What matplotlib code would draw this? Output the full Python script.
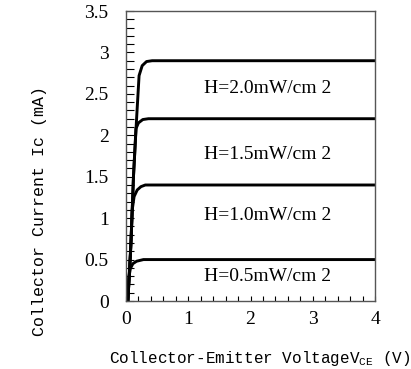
import matplotlib.pyplot as plt
from matplotlib.ticker import MultipleLocator

# curves (Vce in V, Ic in mA)
v_20 = [0.03, 0.08, 0.12, 0.17, 0.21, 0.26, 0.33, 0.42, 4.0]
i_20 = [0.0, 0.7, 1.5, 2.2, 2.72, 2.84, 2.89, 2.9, 2.9]

v_15 = [0.03, 0.08, 0.12, 0.16, 0.2, 0.27, 0.36, 4.0]
i_15 = [0.0, 0.7, 1.5, 2.08, 2.15, 2.19, 2.2, 2.2]

v_10 = [0.03, 0.07, 0.1, 0.13, 0.18, 0.24, 0.31, 4.0]
i_10 = [0.0, 0.55, 1.1, 1.26, 1.34, 1.38, 1.4, 1.4]

v_05 = [0.03, 0.045, 0.07, 0.11, 0.17, 0.28, 4.0]
i_05 = [0.0, 0.28, 0.39, 0.45, 0.48, 0.5, 0.5]

labels = ['H=2.0mW/cm 2', 'H=1.5mW/cm 2', 'H=1.0mW/cm 2', 'H=0.5mW/cm 2']
label_y = [2.57, 1.77, 1.03, 0.3]

x_ticks = [0, 1, 2, 3, 4]
y_ticks = [0, 0.5, 1, 1.5, 2, 2.5, 3, 3.5]
y_tick_labels = ['0', '0.5', '1', '1.5', '2', '2.5', '3', '3.5']

fig = plt.figure(figsize=(4.11, 3.69), dpi=100)
ax = fig.add_axes([126 / 411, 1 - 301 / 369, 249 / 411, 290 / 369])

for v, i in [(v_20, i_20), (v_15, i_15), (v_10, i_10), (v_05, i_05)]:
    ax.plot(v, i, color='black', lw=2.1, solid_joinstyle='round')

for lab, y in zip(labels, label_y):
    ax.text(2.28, y, lab, ha='center', va='center', fontsize=14,
            family='Liberation Serif')

ax.set_xlim(0, 4)
ax.set_ylim(0, 3.5)
ax.set_xticks(x_ticks)
ax.set_xticklabels([str(t) for t in x_ticks])
ax.set_yticks(y_ticks)
ax.set_yticklabels(y_tick_labels)
ax.xaxis.set_minor_locator(MultipleLocator(0.2))
ax.yaxis.set_minor_locator(MultipleLocator(0.1))
ax.tick_params(axis='y', which='both', direction='in', length=6, width=0.8,
               left=True, right=False, pad=12.5, labelsize=14)
ax.tick_params(axis='x', which='both', direction='in', length=3.5, width=0.8,
               bottom=True, top=False, pad=7, labelsize=14)
for lbl in ax.get_xticklabels() + ax.get_yticklabels():
    lbl.set_family('Liberation Serif')

for s in ax.spines.values():
    s.set_color('#555555')
    s.set_linewidth(1.0)

ax.set_xlabel('Collector-Emitter VoltageV$_{\\mathregular{CE}}$ (V)',
              family='Liberation Mono', fontsize=11.5)
ax.xaxis.set_label_coords(0.538, -0.165)
ax.set_ylabel('Collector Current Ic (mA)', family='Liberation Mono',
              fontsize=12)
ax.yaxis.set_label_coords(-0.317, 0.31)

fig.savefig('out.png', dpi=100)
